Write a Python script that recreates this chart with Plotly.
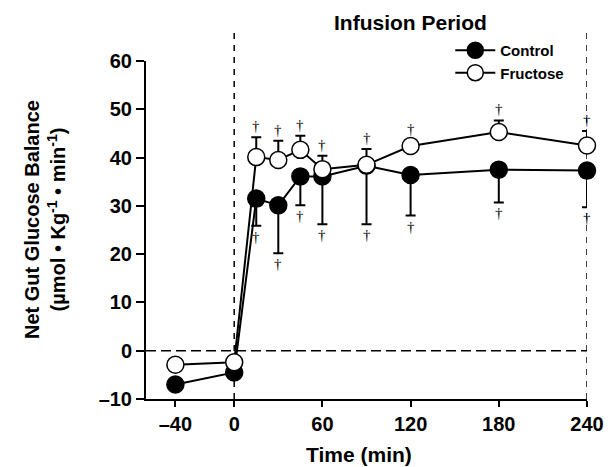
import plotly.graph_objects as go

# Data
time = [-40, 0, 15, 30, 45, 60, 90, 120, 180, 240]
control = [-7.0, -4.5, 31.5, 30.1, 36.1, 36.1, 38.3, 36.4, 37.5, 37.3]
control_err_minus = [0, 0, 5.6, 9.9, 6.0, 9.9, 12.1, 8.4, 6.8, 7.6]
fructose = [-2.9, -2.4, 40.1, 39.5, 41.6, 37.6, 38.5, 42.4, 45.3, 42.5]
fructose_err_plus = [0, 0, 4.1, 4.0, 2.9, 2.8, 3.3, 1.2, 2.4, 3.0]
signif = [False, False, True, True, True, True, True, True, True, True]

x_ticks = [-40, 0, 60, 120, 180, 240]
x_ticklabels = ["–40", "0", "60", "120", "180", "240"]
y_ticks = [-10, 0, 10, 20, 30, 40, 50, 60]
y_ticklabels = ["–10", "0", "10", "20", "30", "40", "50", "60"]

FONT = "Liberation Sans, Arial, sans-serif"

fig = go.Figure()

fig.add_trace(go.Scatter(
    x=time, y=control, mode="lines+markers", name="<b>Control</b>",
    line=dict(color="black", width=2),
    marker=dict(symbol="circle", size=17, color="black",
                line=dict(color="black", width=1.5)),
    error_y=dict(type="data", symmetric=False, array=[0]*len(time),
                 arrayminus=control_err_minus, color="black",
                 thickness=2, width=5),
    cliponaxis=False,
))
fig.add_trace(go.Scatter(
    x=time, y=fructose, mode="lines+markers", name="<b>Fructose</b>",
    line=dict(color="black", width=2),
    marker=dict(symbol="circle", size=17, color="white",
                line=dict(color="black", width=1.5)),
    error_y=dict(type="data", symmetric=False, array=fructose_err_plus,
                 arrayminus=[0]*len(time), color="black",
                 thickness=2, width=5),
    cliponaxis=False,
))

# Dashed reference lines
fig.add_shape(type="line", xref="x", yref="y", x0=-60, x1=240, y0=0, y1=0,
              line=dict(color="black", width=1.5, dash="10px,5px"), layer="below")
for xv in [0, 240]:
    fig.add_shape(type="line", xref="x", yref="paper", x0=xv, x1=xv,
                  y0=0, y1=1.083,
                  line=dict(color="black", width=1.5, dash="6px,6px"), layer="below")

# Significance daggers
for t, c, ce, f, fe, s in zip(time, control, control_err_minus,
                              fructose, fructose_err_plus, signif):
    if not s:
        continue
    fig.add_annotation(x=t, y=f + fe, text="†", showarrow=False,
                       yanchor="bottom", yshift=1,
                       font=dict(family="Liberation Serif", size=15, color="black"))
    fig.add_annotation(x=t, y=c - ce, text="†", showarrow=False,
                       yanchor="top", yshift=-1,
                       font=dict(family="Liberation Serif", size=15, color="black"))

# Title & axis titles
fig.add_annotation(x=0.6, y=1.115, xref="paper", yref="paper",
                   text="<b>Infusion Period</b>", showarrow=False,
                   xanchor="center", yanchor="middle",
                   font=dict(family=FONT, size=21, color="black"))
fig.add_annotation(xref="paper", yref="paper", x=0.5, y=0, text="<b>Time (min)</b>",
                   showarrow=False, xanchor="center", yanchor="middle",
                   yshift=-55, xshift=-8,
                   font=dict(family=FONT, size=21, color="black"))
fig.add_annotation(xref="paper", yref="paper", x=0, y=0.5,
                   text="<b>Net Gut Glucose Balance<br>(µmol • Kg<sup>-1</sup> • min<sup>-1</sup>)</b>",
                   showarrow=False, textangle=-90, xanchor="center", yanchor="middle",
                   xshift=-101, yshift=10,
                   font=dict(family=FONT, size=20, color="black"))

# the page adds an 8px body margin, so the figure is sized/offset to compensate
fig.update_layout(
    width=608, height=459,
    margin=dict(l=138, r=25, t=53, b=68),
    paper_bgcolor="white", plot_bgcolor="white",
    showlegend=True,
    legend=dict(x=0.69, y=1.08, xanchor="left", yanchor="top",
                font=dict(family=FONT, size=15, color="black"),
                bgcolor="rgba(0,0,0,0)", tracegroupgap=0, itemwidth=40),
    font=dict(family=FONT, color="black"),
)
fig.update_xaxes(range=[-60, 240], tickvals=x_ticks, ticktext=[f"<b>{t}</b>" for t in x_ticklabels],
                 showgrid=False, zeroline=False, showline=True, linecolor="black", linewidth=2,
                 ticks="outside", ticklen=6, tickwidth=1.5, tickcolor="black",
                 tickfont=dict(family=FONT, size=20, color="black"))
fig.update_yaxes(range=[-10, 60], tickvals=y_ticks, ticktext=[f"<b>{t}</b>" for t in y_ticklabels],
                 showgrid=False, zeroline=False, showline=True, linecolor="black", linewidth=2,
                 ticks="outside", ticklen=8, tickwidth=1.5, tickcolor="black",
                 tickfont=dict(family=FONT, size=20, color="black"))

fig.write_html("out.html")
